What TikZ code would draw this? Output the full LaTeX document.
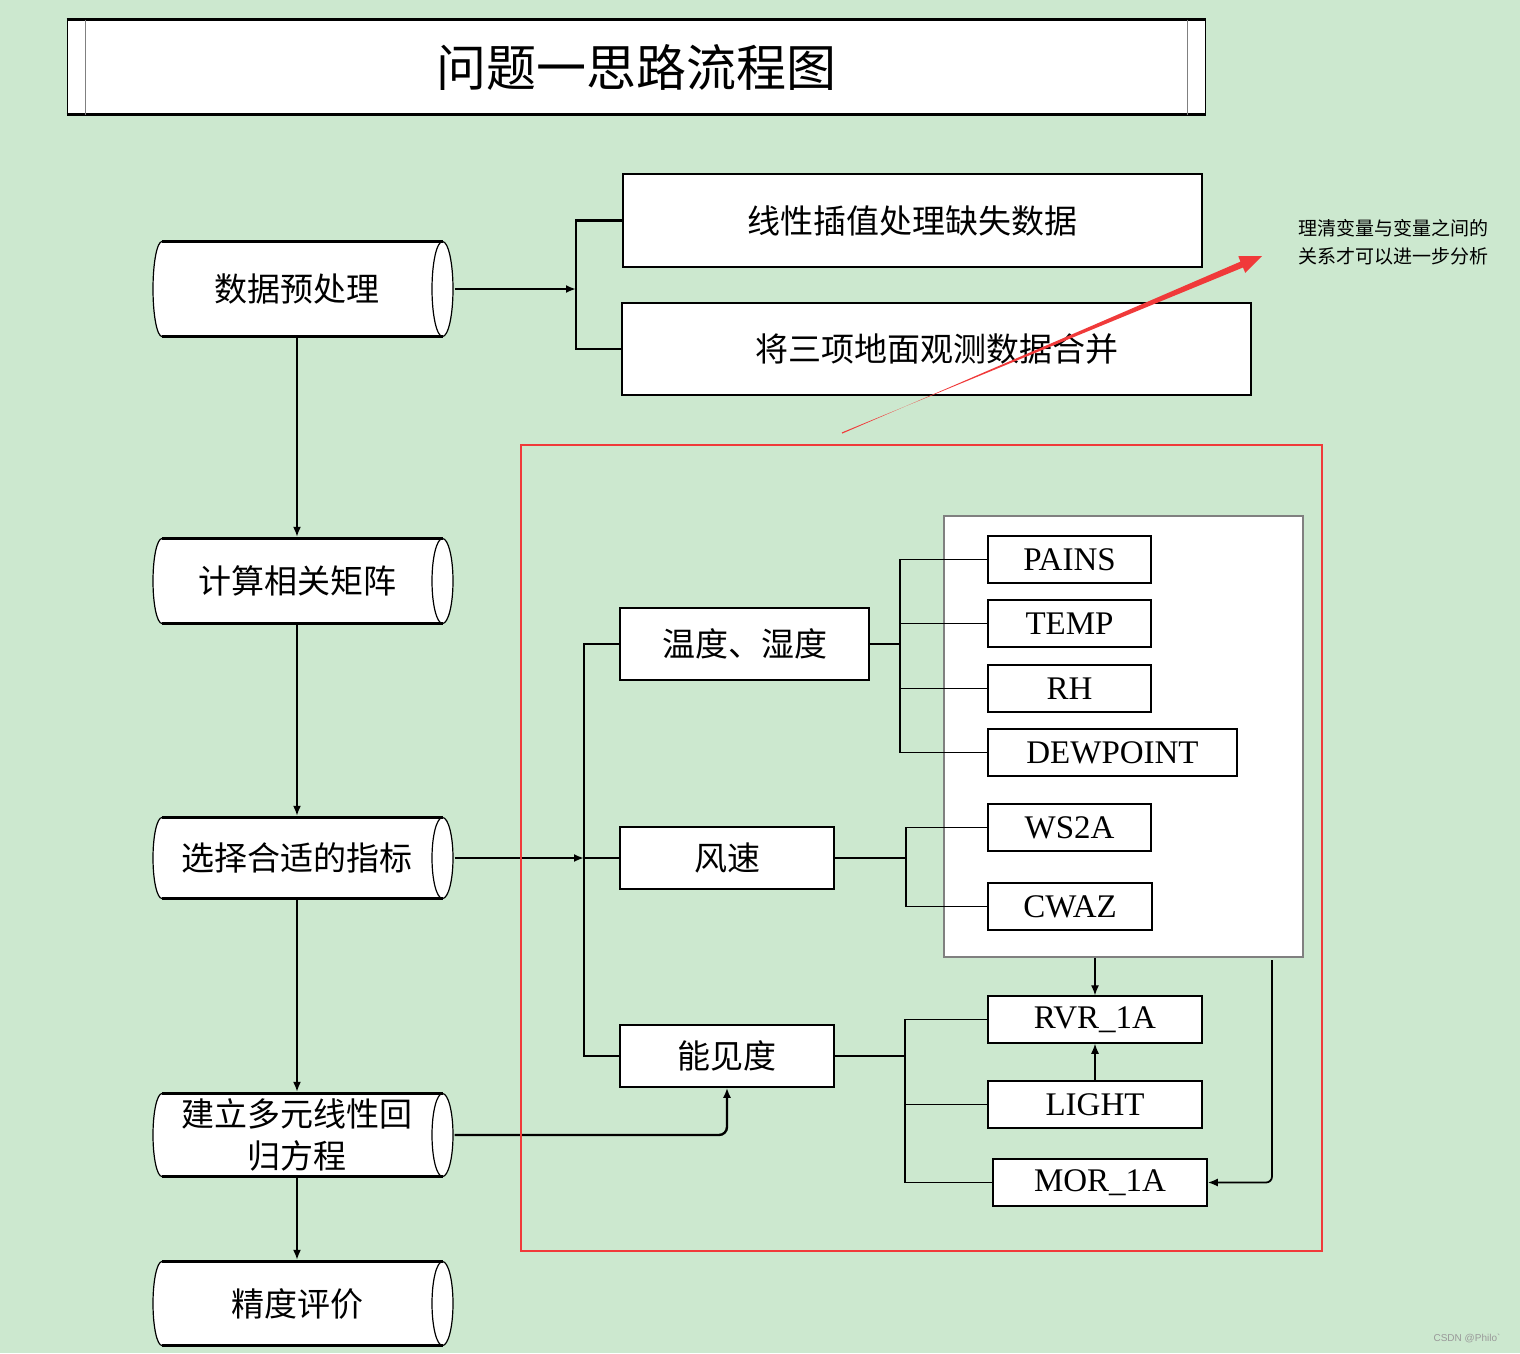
\documentclass[tikz,border=0pt]{standalone}
\usepackage{fontspec}
\setmainfont{Liberation Serif}
\newfontfamily\cjk{Noto Sans CJK SC}
\newfontfamily\wmfont{Liberation Sans}
\usetikzlibrary{arrows.meta}
\usetikzlibrary{calc}
\usetikzlibrary{positioning}
\definecolor{bgreen}{RGB}{204,232,207}
\definecolor{markred}{RGB}{240,58,58}

\tikzset{
	drumnode/.style={minimum width=315pt, minimum height=#1pt, inner sep=0pt, fill=bgreen, align=center, text=black, font=\cjk\fontsize{33}{42}\selectfont,
		path picture={
			\path[draw=black, fill=white, line width=1.2pt] ($(path picture bounding box.north west)+(22.5,1.5)$) -- ($(path picture bounding box.north east)+(-12,1.5)$) arc[start angle=90, end angle=-90, x radius=10.5pt, y radius={(#1/2-1.5)*1pt}] -- ($(path picture bounding box.south west)+(22.5,-1.5)$) arc[start angle=270, end angle=90, x radius=9pt, y radius={(#1/2-1.5)*1pt}] -- cycle;
			\draw[line width=1.2pt] ($(path picture bounding box.north east)+(-12,1.5)$) arc[start angle=90, end angle=270, x radius=10.5pt, y radius={(#1/2-1.5)*1pt}];
			\draw[line width=2.2pt] ($(path picture bounding box.north west)+(22.5,1.5)$) -- ($(path picture bounding box.north east)+(-12,1.5)$);
			\draw[line width=2.2pt] ($(path picture bounding box.south west)+(22.5,-1.5)$) -- ($(path picture bounding box.south east)+(-12,-1.5)$);
		}},
	drumnode/.default=88
}

\begin{document}
\begin{tikzpicture}[x=1pt, y=-1pt]
	\tikzstyle{stepbox}=[draw=black, line width=1.5pt, fill=white, inner sep=0pt, text=black, font=\cjk\fontsize{33}{40}\selectfont]
	\tikzstyle{varbox}=[draw=black, line width=1.5pt, fill=white, inner sep=0pt, minimum width=163pt, minimum height=47pt, text=black, font=\fontsize{33}{36}\selectfont]
	\tikzstyle{link}=[line width=1.8pt, black]
	\tikzstyle{tip}=[-{Latex[length=10pt,width=8pt]}]
	
	\fill[bgreen] (0,0) rectangle (1520,1353);
	\useasboundingbox (0,0) rectangle (1520,1353);
	
	% title
	\node (title) at (636,67) [draw=black, line width=1pt, fill=white, minimum width=1138pt, minimum height=94pt, font=\cjk\fontsize{50}{56}\selectfont] {问题一思路流程图};
	\draw[line width=2.6pt] (title.north west) -- (title.north east);
	\draw[line width=2.6pt] (title.south west) -- (title.south east);
	\draw[gray, line width=1pt] ($(title.north west)+(19,0)$) -- ($(title.south west)+(19,0)$);
	\draw[gray, line width=1pt] ($(title.north east)+(-18,0)$) -- ($(title.south east)+(-18,0)$);
	
	% main column
	\node (pre) at (297,289) [drumnode=98] {数据预处理};
	\node (corr) at (297,581) [drumnode=88] {计算相关矩阵};
	\node (sel) at (297,858) [drumnode=84] {选择合适的指标};
	\node (reg) at (297,1135) [drumnode=86] {建立多元线性回\\归方程};
	\node (acc) at (297,1303.5) [drumnode=87] {精度评价};
	
	% preprocessing
	\node (fix) at (912.5,220.5) [stepbox, minimum width=579pt, minimum height=93pt] {线性插值处理缺失数据};
	\node (merge) at (936.5,349) [stepbox, minimum width=629pt, minimum height=92pt] {将三项地面观测数据合并};
	
	% indicators
	\node (grp) at (1123.5,736.5) [draw=gray, line width=1.5pt, fill=white, minimum width=359pt, minimum height=441pt] {};
	\node (wd) at (744.5,644) [stepbox, minimum width=249pt, minimum height=72pt] {温度、湿度};
	\node (fs) at (727,858) [stepbox, minimum width=214pt, minimum height=62pt] {风速};
	\node (njd) at (727,1056) [stepbox, minimum width=214pt, minimum height=62pt] {能见度};
	
	\node (pains) at (1069.5,559.5) [varbox] {PAINS};
	\node (temp) at (1069.5,623.5) [varbox] {TEMP};
	\node (rh) at (1069.5,688.5) [varbox] {RH};
	\node (dew) at (1112.5,752.5) [varbox, minimum width=249pt] {DEWPOINT};
	\node (ws) at (1069.5,827.5) [varbox] {WS2A};
	\node (cwaz) at (1070,906.5) [varbox, minimum width=164pt] {CWAZ};
	\node (rvr) at (1095,1019.5) [varbox, minimum width=214pt] {RVR\_1A};
	\node (light) at (1095,1104.5) [varbox, minimum width=214pt] {LIGHT};
	\node (mor) at (1100,1182.5) [varbox, minimum width=214pt] {MOR\_1A};
	
	\coordinate (bk) at (576,289);
	\coordinate (sj) at (584,858);
	\coordinate (t1) at (900,644);
	\coordinate (f1) at (906,858);
	\coordinate (v1) at (905,1056);
	\coordinate (gk) at (1272,960);
	
	\draw[link, tip] (pre.south) -- (corr.north);
	\draw[link, tip] (corr.south) -- (sel.north);
	\draw[link, tip] (sel.south) -- (reg.north);
	\draw[link, tip] (reg.south) -- (acc.north);
	
	\draw[link, line width=2.4pt, tip] (pre.east) -- (bk);
	\draw[link, line width=2.4pt] (fix.west) -| (bk) |- (merge.west);
	
	\draw[link, line width=2.4pt, tip] (sel.east) -- (sj);
	\draw[link] (wd.west) -| (sj) |- (njd.west);
	\draw[link] (sj) -- (fs.west);
	
	\draw[link] (wd.east) -- (t1);
	\draw[link] (pains.west) -| (t1) |- (dew.west);
	\draw[link, line width=1pt] (temp.west) -- (temp.west -| t1);
	\draw[link, line width=1pt] (rh.west) -- (rh.west -| t1);
	
	\draw[link] (fs.east) -- (f1);
	\draw[link] (ws.west) -| (f1) |- (cwaz.west);
	
	\draw[link] (njd.east) -- (v1);
	\draw[link] (rvr.west) -| (v1) |- (mor.west);
	\draw[link] (light.west) -- (light.west -| v1);
	
	\draw[link, line width=1.2pt, tip] (rvr.north |- grp.south) -- (rvr.north);
	\draw[link, line width=1.2pt, tip] (light.north) -- (rvr.south);
	\draw[link, rounded corners=6pt, tip] (gk) |- (mor.east);
	\draw[link, line width=2.4pt, rounded corners=8pt, tip] (reg.east) -| (njd.south);
	
	% red mark
	\draw[markred, line width=2.6pt] (521,445) rectangle (1322,1251);
	\coordinate (rs) at (842,433);
	\coordinate (rt) at (1262,256);
	\coordinate (rhd) at ($(rt)!22pt!(rs)$);
	\fill[markred] ($(rs)!0.6pt!90:(rt)$) -- ($(rhd)!3.2pt!90:(rs)$) -- ($(rhd)!9pt!90:(rs)$) -- (rt) -- ($(rhd)!9pt!-90:(rs)$) -- ($(rhd)!3.2pt!-90:(rs)$) -- ($(rs)!0.6pt!-90:(rt)$) -- cycle;
	\node (note) at (1298,242) [anchor=west, align=left, inner sep=0pt, font=\cjk\fontsize{19}{28}\selectfont] {理清变量与变量之间的\\关系才可以进一步分析};
	
	\node (wm) at (1467,1338) [inner sep=0pt, text=gray!80, font=\wmfont\fontsize{10}{12}\selectfont] {CSDN @Philo`};
\end{tikzpicture}
\end{document}
